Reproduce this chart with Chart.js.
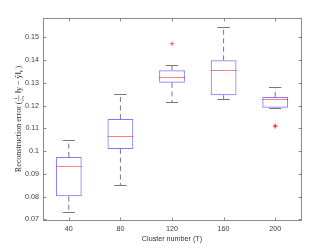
<!DOCTYPE html>
<html>
<head>
<meta charset="utf-8">
<script src="https://cdn.jsdelivr.net/npm/chart.js@4.4.1/dist/chart.umd.min.js"></script>
<style>
  html, body { margin: 0; padding: 0; background: #fff; }
  #wrap { width: 332px; height: 249px; }
</style>
</head>
<body>
<div id="wrap"><canvas id="mycanvas" width="332" height="249"></canvas></div>
<script>
// box plot values
var clusters = ['40', '80', '120', '160', '200'];
var whiskerLow = [0.0732, 0.0851, 0.1216, 0.1229, 0.1190];
var q1 = [0.0801, 0.1009, 0.1300, 0.1245, 0.1190];
var medians = [0.0935, 0.1068, 0.1326, 0.1357, 0.1229];
var q3 = [0.0974, 0.1141, 0.1355, 0.1399, 0.1238];
var whiskerHigh = [0.1049, 0.1249, 0.1377, 0.1546, 0.1280];
var outlierCluster = ['120', '200', '200'];
var outlierValues = [0.1472, 0.1112, 0.1107];
var yTicks = [0.07, 0.08, 0.09, 0.1, 0.11, 0.12, 0.13, 0.14, 0.15];

var axisGray = '#8a8a8a';
var sansFont = '"Liberation Sans", Arial, sans-serif';
var serifFont = '"Liberation Serif", "Times New Roman", serif';

var boxes = [];
var outliers = [];
for (var i = 0; i < clusters.length; i++) {
  boxes.push([q1[i], q3[i]]);
}
for (var j = 0; j < outlierValues.length; j++) {
  outliers.push({x: outlierCluster[j], y: outlierValues[j]});
}

var boxPlugin = {
  id: 'boxPlugin',
  afterDatasetsDraw: function(chart) {
    var ctx = chart.ctx;
    var xs = chart.scales.x;
    var ys = chart.scales.y;
    var area = chart.chartArea;
    var step = xs.getPixelForValue(1) - xs.getPixelForValue(0);
    var boxHalf = step * 0.25;
    var capHalf = step * 0.12;

    ctx.save();
    for (var i = 0; i < clusters.length; i++) {
      var cx = xs.getPixelForValue(i);
      // dashed whiskers
      ctx.strokeStyle = '#777';
      ctx.lineWidth = 1;
      ctx.setLineDash([5, 3.5]);
      ctx.beginPath();
      ctx.moveTo(cx, ys.getPixelForValue(q3[i]));
      ctx.lineTo(cx, ys.getPixelForValue(whiskerHigh[i]));
      ctx.moveTo(cx, ys.getPixelForValue(q1[i]));
      ctx.lineTo(cx, ys.getPixelForValue(whiskerLow[i]));
      ctx.stroke();
      ctx.setLineDash([]);
      // caps
      ctx.beginPath();
      var yh = Math.round(ys.getPixelForValue(whiskerHigh[i])) + 0.5;
      var yl = Math.round(ys.getPixelForValue(whiskerLow[i])) + 0.5;
      ctx.moveTo(cx - capHalf, yh);
      ctx.lineTo(cx + capHalf, yh);
      ctx.moveTo(cx - capHalf, yl);
      ctx.lineTo(cx + capHalf, yl);
      ctx.stroke();
      // median
      ctx.strokeStyle = 'rgba(255,0,0,0.5)';
      ctx.beginPath();
      var ym = Math.round(ys.getPixelForValue(medians[i])) + 0.5;
      ctx.moveTo(cx - boxHalf, ym);
      ctx.lineTo(cx + boxHalf, ym);
      ctx.stroke();
    }

    // frame and inward ticks
    var l = Math.round(area.left) + 0.5, r = Math.round(area.right) + 0.5;
    var t = Math.round(area.top) + 0.5, b = Math.round(area.bottom) + 0.5;
    ctx.strokeStyle = axisGray;
    ctx.lineWidth = 1;
    ctx.strokeRect(l, t, r - l, b - t);
    ctx.beginPath();
    for (var k = 0; k < yTicks.length; k++) {
      var py = Math.round(ys.getPixelForValue(yTicks[k])) + 0.5;
      ctx.moveTo(l, py); ctx.lineTo(l + 3, py);
      ctx.moveTo(r, py); ctx.lineTo(r - 3, py);
    }
    for (var m = 0; m < clusters.length; m++) {
      var px = Math.round(xs.getPixelForValue(m)) + 0.5;
      ctx.moveTo(px, b); ctx.lineTo(px, b - 3);
      ctx.moveTo(px, t); ctx.lineTo(px, t + 3);
    }
    ctx.stroke();

    // x title
    ctx.fillStyle = '#333';
    ctx.font = '7.2px ' + sansFont;
    ctx.textAlign = 'center';
    ctx.textBaseline = 'middle';
    ctx.fillText('Cluster number (T)', (area.left + area.right) / 2, 239);

    // y title with the fraction 1/sqrt(n)
    ctx.translate(18, (area.top + area.bottom) / 2);
    ctx.rotate(-Math.PI / 2);
    ctx.textAlign = 'left';
    ctx.textBaseline = 'alphabetic';
    var big = '8px ' + serifFont;
    var small = '5px ' + serifFont;
    var parts1 = 'Reconstruction error (';
    var parts2 = '\u2016y \u2212 \u0177\u2016';
    ctx.font = big;
    var w1 = ctx.measureText(parts1).width;
    var w2 = ctx.measureText(parts2).width;
    var wClose = ctx.measureText(')').width;
    ctx.font = small;
    var wFrac = ctx.measureText('\u221An').width + 1;
    var wSub = ctx.measureText('F').width;
    var total = w1 + wFrac + 2 + w2 + wSub + 1 + wClose;
    var x = -total / 2;
    var base = 3;
    ctx.font = big;
    ctx.fillText(parts1, x, base);
    x += w1;
    ctx.font = small;
    ctx.fillText('1', x + wFrac / 2 - 1.3, base - 4);
    ctx.fillText('\u221An', x, base + 3);
    ctx.strokeStyle = '#333';
    ctx.lineWidth = 0.5;
    ctx.beginPath();
    ctx.moveTo(x, base - 2.2);
    ctx.lineTo(x + wFrac, base - 2.2);
    ctx.stroke();
    x += wFrac + 2;
    ctx.font = big;
    ctx.fillText(parts2, x, base);
    x += w2;
    ctx.font = small;
    ctx.fillText('F', x, base + 1.5);
    x += wSub + 1;
    ctx.font = big;
    ctx.fillText(')', x, base);
    ctx.restore();
  }
};

var ctx = document.getElementById('mycanvas');

var Graph = new Chart(ctx, {
  type: 'bar',
  data: {
    labels: clusters,
    datasets: [
      {
        label: 'box',
        data: boxes,
        backgroundColor: 'rgba(0,0,0,0)',
        borderColor: '#7b7bff',
        borderWidth: 1,
        borderSkipped: false,
        categoryPercentage: 1,
        barPercentage: 0.5
      },
      {
        type: 'line',
        label: 'outliers',
        data: outliers,
        showLine: false,
        pointStyle: 'cross',
        pointRadius: 2.2,
        pointBorderWidth: 1,
        pointBorderColor: 'rgba(255,0,0,0.6)',
        pointBackgroundColor: 'rgba(255,0,0,0.6)'
      }
    ]
  },
  options: {
    responsive: false,
    animation: false,
    events: [],
    layout: { padding: { top: 18, right: 31, left: 0, bottom: 0 } },
    plugins: {
      legend: { display: false },
      tooltip: { enabled: false }
    },
    scales: {
      x: {
        grid: { display: false, drawTicks: false },
        border: { display: false },
        ticks: {
          color: '#404040',
          font: { family: sansFont, size: 7.2 },
          padding: 5,
          maxRotation: 0
        },
        afterFit: function(scale) { scale.height = 29; }
      },
      y: {
        min: 0.0697,
        max: 0.1585,
        grid: { display: false, drawTicks: false },
        border: { display: false },
        afterBuildTicks: function(scale) {
          scale.ticks = yTicks.map(function(v) { return {value: v}; });
        },
        ticks: {
          color: '#404040',
          font: { family: sansFont, size: 7.2 },
          padding: 4,
          callback: function(v) { return String(v); }
        },
        afterFit: function(scale) { scale.width = 43; }
      }
    }
  },
  plugins: [boxPlugin]
});
</script>
</body>
</html>
